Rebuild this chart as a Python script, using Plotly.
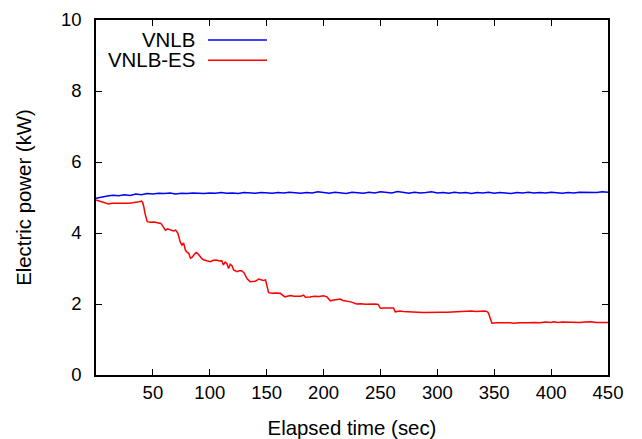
import plotly.graph_objects as go

# ---- data ----
blue_t = list(range(0, 451, 5))
blue_v = [4.98, 5.02, 5.04, 5.06, 5.05, 5.08, 5.06, 5.10, 5.08, 5.11,
          5.10, 5.12, 5.11, 5.13, 5.10, 5.12, 5.11, 5.13, 5.12, 5.11,
          5.13, 5.12, 5.14, 5.12, 5.13, 5.11, 5.14, 5.13, 5.12, 5.14,
          5.13, 5.12, 5.14, 5.13, 5.15, 5.13, 5.12, 5.14, 5.13, 5.16,
          5.14, 5.12, 5.15, 5.13, 5.11, 5.15, 5.13, 5.12, 5.15, 5.13,
          5.16, 5.14, 5.13, 5.17, 5.14, 5.12, 5.15, 5.13, 5.14, 5.16,
          5.13, 5.14, 5.12, 5.15, 5.13, 5.14, 5.11, 5.14, 5.13, 5.15,
          5.12, 5.14, 5.13, 5.11, 5.14, 5.13, 5.15, 5.13, 5.14, 5.13,
          5.15, 5.14, 5.12, 5.14, 5.13, 5.15, 5.14, 5.15, 5.14, 5.16,
          5.15]

red_t = [0, 3, 5, 8, 11, 14, 17, 20, 23, 26, 29, 32, 35, 38, 40, 41, 42, 43, 45,
         48, 51, 54, 57, 59, 61, 63, 65, 68, 70, 72, 74, 75.5, 77, 78.5, 80, 81.5,
         83, 84.5, 86, 88, 89.5, 91.5, 93, 95, 98, 100.5, 103, 106, 108.5, 110.5,
         112, 113.5, 115, 116.5, 118, 119.5, 121, 124, 126, 128, 130, 131, 133,
         135.5, 138, 140, 143, 145, 147, 149, 150.5, 151.7, 155, 158, 162, 164,
         166, 168, 171, 174, 178, 180, 182.5, 184, 188, 192, 196, 200, 203, 206,
         209, 212, 214.7, 217, 220, 224, 229, 233, 237, 241, 245, 248, 250, 254,
         258, 261.5, 263, 267, 270, 273, 278, 283, 288, 293, 298, 303, 308.5, 313,
         318, 322, 326, 330, 334, 338, 342, 344, 345, 346.5, 348, 352, 356, 360,
         364, 367, 372, 376, 380, 385, 390, 395, 400, 402, 406, 410, 415, 420,
         425, 430, 435, 440, 445, 450]
red_v = [4.93, 4.90, 4.88, 4.85, 4.82, 4.84, 4.84, 4.82, 4.83, 4.82, 4.84, 4.85,
         4.86, 4.88, 4.90, 4.86, 4.74, 4.56, 4.32, 4.30, 4.31, 4.28, 4.27, 4.18,
         4.08, 4.12, 4.10, 4.06, 4.08, 3.99, 3.75, 3.66, 3.72, 3.52, 3.46, 3.43,
         3.29, 3.32, 3.38, 3.45, 3.42, 3.33, 3.28, 3.24, 3.22, 3.19, 3.23, 3.24,
         3.21, 3.22, 3.10, 3.18, 3.14, 3.00, 3.12, 3.08, 2.96, 2.91, 2.94, 2.94,
         2.88, 2.82, 2.70, 2.63, 2.63, 2.64, 2.70, 2.67, 2.66, 2.68, 2.50, 2.32,
         2.30, 2.31, 2.30, 2.26, 2.20, 2.22, 2.24, 2.22, 2.23, 2.22, 2.25, 2.19,
         2.20, 2.22, 2.21, 2.23, 2.20, 2.09, 2.11, 2.12, 2.14, 2.10, 2.08, 2.06,
         2.00, 2.01, 1.99, 2.00, 2.00, 1.99, 1.88, 1.89, 1.88, 1.89, 1.78, 1.80,
         1.79, 1.79, 1.78, 1.77, 1.76, 1.77, 1.78, 1.77, 1.77, 1.78, 1.78, 1.79,
         1.79, 1.80, 1.79, 1.80, 1.80, 1.78, 1.74, 1.60, 1.46, 1.47, 1.46, 1.47,
         1.47, 1.46, 1.47, 1.48, 1.47, 1.48, 1.47, 1.49, 1.48, 1.50, 1.48, 1.49,
         1.48, 1.49, 1.48, 1.49, 1.50, 1.48, 1.49, 1.48]

x_ticks = [50, 100, 150, 200, 250, 300, 350, 400, 450]
y_ticks = [0, 2, 4, 6, 8, 10]
series_names = ["VNLB", "VNLB-ES"]
series_colors = ["#0000ff", "#ff0000"]

FONT = "Liberation Sans, Arial, sans-serif"
TICK_SIZE = 18.5
TEXT_SIZE = 20.4

fig = go.Figure()
fig.add_trace(go.Scatter(x=blue_t, y=blue_v, mode="lines", name=series_names[0],
                         line=dict(color=series_colors[0], width=1.5), showlegend=False))
fig.add_trace(go.Scatter(x=red_t, y=red_v, mode="lines", name=series_names[1],
                         line=dict(color=series_colors[1], width=1.5), showlegend=False))

# manual legend: text, then line sample to its right
legend_y = [0.9437, 0.8865]
for name, col, ly in zip(series_names, series_colors, legend_y):
    fig.add_annotation(x=0.1914, y=ly, xref="paper", yref="paper", text=name,
                       showarrow=False, xanchor="right", yanchor="middle",
                       xshift=3, font=dict(family=FONT, size=TEXT_SIZE, color="black"))
    fig.add_shape(type="line", xref="paper", yref="paper", x0=0.21875, x1=0.334,
                  y0=ly, y1=ly, line=dict(color=col, width=1.5))

axis_common = dict(showline=True, linecolor="black", linewidth=1.5, mirror="ticks",
                   ticks="inside", ticklen=6, tickwidth=1.2, tickcolor="black",
                   showgrid=False, zeroline=False, automargin=False,
                   tickfont=dict(family=FONT, size=TICK_SIZE, color="black"))

fig.update_xaxes(range=[0, 450], tickvals=x_ticks,
                 title=dict(text="Elapsed time (sec)",
                            font=dict(family=FONT, size=TEXT_SIZE, color="black"),
                            standoff=22),
                 **axis_common)
fig.update_yaxes(range=[0, 10], tickvals=y_ticks, ticklabelstandoff=9,
                 title=dict(text="Electric power (kW)",
                            font=dict(family=FONT, size=TEXT_SIZE, color="black"),
                            standoff=24),
                 **axis_common)

# page body has an 8px margin, so the figure is 8px smaller than the window
fig.update_layout(width=634, height=431, plot_bgcolor="white", paper_bgcolor="white",
                  margin=dict(l=88, r=34, t=12, b=64, pad=0), showlegend=False)

fig.write_html("out.html")
